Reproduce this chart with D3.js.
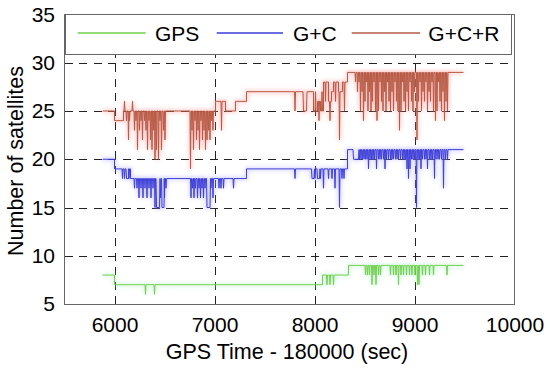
<!DOCTYPE html>
<html>
<head>
<meta charset="utf-8">
<script src="https://cdn.jsdelivr.net/npm/d3@7"></script>
<style>
	body { margin: 0; background: #fff; }
	svg text { font-family: "Liberation Sans", Arial, Helvetica, sans-serif; fill: #000; }
</style>
</head>
<body>
<svg id="chart" width="550" height="371"></svg>
<script>
"use strict";

// axis ticks and legend
var xTicks = [6000, 7000, 8000, 9000, 10000];
var yTicks = [5, 10, 15, 20, 25, 30, 35];
var gridX = [6000, 7000, 8000, 9000];
var gridY = [10, 15, 20, 25, 30];
var seriesNames = ["GPS", "G+C", "G+C+R"];

// baseline levels [time, satellites]; last entry closes the line
var gpsSteps = [[5880,8],[6000,7],[8080,8],[8340,9],[9490,9]];
// short drops [time, satellites, width]
var gpsSpikes = [[6310,6],[6400,6],[8125,7],[8155,7],[8190,7],
	[8510,8],[8530,8],[8550,8],[8575,7],[8595,8],[8615,7],[8640,8],[8660,8],
	[8760,8],[8790,8],[8815,8],[8840,7],[8865,8],[8890,8],[8920,8],[8950,8],
	[8975,8],[9005,8],[9030,7],[9045,7],[9080,8],[9110,8],[9150,8],[9190,8],[9325,8]];

var gcSteps = [[5880,20],[6000,19],[6160,18],[7320,19],[8330,21],[9490,21]];
var gcSpikes = [[6080,18],[6100,18],[6120,18,20],[6145,18],
	[6200,17],[6225,17],[6245,16],[6265,17],[6285,16],[6305,17],[6325,16],[6345,17],
	[6365,16],[6385,17],[6405,15],[6420,15,30],[6460,16],[6475,15,20],[6500,16],[6515,17],
	[6765,16],[6780,17],[6795,16],[6810,17],[6830,16],[6845,17],[6860,16],[6875,17],
	[6890,16],[6905,17],[6925,15,30],[6965,17],[6985,16],
	[7045,17],[7065,17],[7090,17],[7190,17],
	[7805,18],[7975,18,20],[8005,18],[8030,18,20],[8060,18],[8090,17],[8140,18],
	[8175,18],[8205,17],[8250,15],[8275,18],[8295,18],
	[8390,20,50],[8450,20],[8465,20],[8480,20],[8495,20],[8510,20],[8525,20],[8540,19],
	[8555,20],[8570,20],[8585,20],[8600,20],[8620,19],[8640,20],[8655,20],[8670,20],
	[8690,20],[8705,19],[8720,20],[8740,20],[8760,20],[8775,20],[8790,20],[8810,20],
	[8825,20],[8840,20],[8860,20],[8880,20],[8895,20],[8910,20],[8925,19],[8940,18],
	[8955,19],[8970,20],[8985,20],[9000,20],[9020,15],[9035,20],[9050,20],[9065,19],
	[9080,20],[9100,20],[9115,20],[9130,19],[9150,20],[9165,20],[9180,20],[9200,18],
	[9215,20],[9235,20],[9250,20],[9270,20],[9290,17],[9310,20],[9330,20]];

var gcrSteps = [[5880,25],[6000,24],[6090,25],[7010,26],[7110,25],[7210,26],[7320,27],
	[7990,25],[8030,26],[8060,25],[8090,28],[8140,26],[8170,27],[8190,28],[8240,27],
	[8280,28],[8330,29],[9490,29]];
var gcrSpikes = [[6100,26],[6120,24],[6140,22],[6150,24],[6180,26],[6200,23],[6215,24],
	[6230,21],[6250,23],[6265,24],[6280,22],[6300,24],[6315,23],[6330,21],[6345,24],
	[6360,22],[6375,21],[6390,23],[6405,20],[6420,21],[6440,20],[6455,24],[6470,21],
	[6490,23],[6505,22],
	[6760,19],[6775,23],[6790,21],[6805,24],[6820,22],[6835,23],[6850,21],[6865,24],
	[6880,22],[6895,23],[6910,21],[6925,22],[6940,23],[6955,22],[6970,24],[6985,23],
	[7070,23],[7805,25],[7890,25,30],
	[8010,27],[8045,24],[8075,27],[8110,26],[8155,24],[8210,26],[8250,22],[8300,25],
	[8410,28],[8430,27],[8445,28],[8460,25],[8475,27],[8490,24],[8505,26],[8520,28],
	[8535,25],[8550,27],[8565,25],[8580,26],[8595,28],[8610,25],[8625,24],[8640,25],
	[8655,28],[8670,26],[8685,25],[8700,27],[8715,25],[8730,28],[8745,26],[8760,25],
	[8775,27],[8790,25],[8805,28],[8820,26],[8835,25],[8850,23],[8865,25],[8880,28],
	[8895,26],[8910,25],[8925,27],[8940,25],[8955,28],[8970,26],[8985,25],[9000,27],
	[9025,22],[9040,26],[9055,28],[9070,25],[9085,27],[9100,26],[9115,28],[9130,25],
	[9145,27],[9160,26],[9175,28],[9190,25],[9210,24],[9225,25],[9240,28],[9255,26],
	[9270,25],[9285,27],[9300,24],[9315,26],[9330,25]];

var colors = ["#72cf4e", "#3e3ed8", "#b65a44"];
var hazes = ["#a8f0c0", "#a0a0ff", "#ff9090"];

var svg = d3.select("#chart");
var plotLeft = 64.5, plotRight = 514.5, plotTop = 14.5, plotBottom = 304;

var x = d3.scaleLinear().domain([5500, 10000]).range([plotLeft, plotRight]);
var y = d3.scaleLinear().domain([5, 35]).range([plotBottom, plotTop]);

function buildPoints(steps, spikes) {
	var events = [];
	steps.forEach(function(s){ events.push({t: s[0], step: true, v: s[1]}); });
	spikes.forEach(function(s){ events.push({t: s[0], step: false, v: s[1], w: s[2] || 0}); });
	events.sort(function(a, b){ return a.t - b.t; });
	var pts = [];
	var base = null;
	events.forEach(function(e){
		if (e.step) {
			if (base !== null) pts.push([e.t, base]);
			pts.push([e.t, e.v]);
			base = e.v;
		} else {
			pts.push([e.t - 5, base], [e.t, e.v]);
			if (e.w) pts.push([e.t + e.w, e.v]);
			pts.push([e.t + e.w + 5, base]);
		}
	});
	return pts;
}

var defs = svg.append("defs");
defs.append("filter").attr("id", "haze")
	.attr("x", "-10%").attr("y", "-10%").attr("width", "120%").attr("height", "120%")
  .append("feGaussianBlur").attr("stdDeviation", 2);

// grid
var grid = svg.append("g").attr("stroke", "#222").attr("stroke-width", 1)
	.attr("stroke-dasharray", "8,6.5").attr("shape-rendering", "crispEdges");
grid.selectAll(".gy").data(gridY).enter().append("line")
	.attr("x1", plotLeft).attr("x2", plotRight)
	.attr("y1", function(d){ return Math.round(y(d)) + 0.5; })
	.attr("y2", function(d){ return Math.round(y(d)) + 0.5; });
grid.selectAll(".gx").data(gridX).enter().append("line")
	.attr("y1", plotBottom).attr("y2", plotTop)
	.attr("x1", function(d){ return Math.round(x(d)) + 0.5; })
	.attr("x2", function(d){ return Math.round(x(d)) + 0.5; });

// series
var line = d3.line()
	.x(function(d){ return x(d[0]); })
	.y(function(d){ return y(d[1]); });

var series = [
	buildPoints(gpsSteps, gpsSpikes),
	buildPoints(gcSteps, gcSpikes),
	buildPoints(gcrSteps, gcrSpikes)
];

series.forEach(function(pts, i){
	svg.append("path").attr("d", line(pts))
		.attr("fill", "none").attr("stroke", hazes[i]).attr("stroke-width", 3)
		.attr("opacity", 0.5).attr("filter", "url(#haze)");
});
series.forEach(function(pts, i){
	svg.append("path").attr("d", line(pts))
		.attr("fill", "none").attr("stroke", colors[i]).attr("stroke-width", 1);
});

// frame
svg.append("rect").attr("x", plotLeft).attr("y", plotTop)
	.attr("width", plotRight - plotLeft).attr("height", plotBottom - plotTop)
	.attr("fill", "none").attr("stroke", "#666").attr("shape-rendering", "crispEdges");

// axes
var xAxis = svg.append("g").attr("transform", "translate(0," + plotBottom + ")")
	.call(d3.axisBottom(x).tickValues(xTicks).tickFormat(d3.format("d"))
		.tickSize(0).tickPadding(13));
var yAxis = svg.append("g").attr("transform", "translate(" + plotLeft + ",0)")
	.call(d3.axisLeft(y).tickValues(yTicks).tickFormat(d3.format("d"))
		.tickSize(0).tickPadding(9.5));
[xAxis, yAxis].forEach(function(a){
	a.select(".domain").remove();
	a.selectAll("text").attr("font-size", 21)
		.attr("font-family", "'Liberation Sans', Arial, Helvetica, sans-serif");
});

svg.append("text").attr("x", 287).attr("y", 359)
	.attr("text-anchor", "middle").attr("font-size", 21.5)
	.text("GPS Time - 180000 (sec)");
svg.append("text").attr("transform", "translate(23,161) rotate(-90)")
	.attr("text-anchor", "middle").attr("font-size", 21.5)
	.text("Number of satellites");

// legend
var legend = svg.append("g");
legend.append("rect").attr("x", 65.5).attr("y", 14.5).attr("width", 446).attr("height", 40)
	.attr("fill", "#fff").attr("stroke", "#666").attr("shape-rendering", "crispEdges");
var legLines = [[77.7, 145.7], [216.7, 283], [351.7, 420]];
var legText = [155, 293, 428.3];
seriesNames.forEach(function(name, i){
	legend.append("line").attr("x1", legLines[i][0]).attr("x2", legLines[i][1])
		.attr("y1", 33).attr("y2", 33)
		.style("stroke", colors[i]).style("stroke-width", 1.5);
	legend.append("text").attr("x", legText[i]).attr("y", 40.7)
		.attr("font-size", 21).text(name);
});
</script>
</body>
</html>
